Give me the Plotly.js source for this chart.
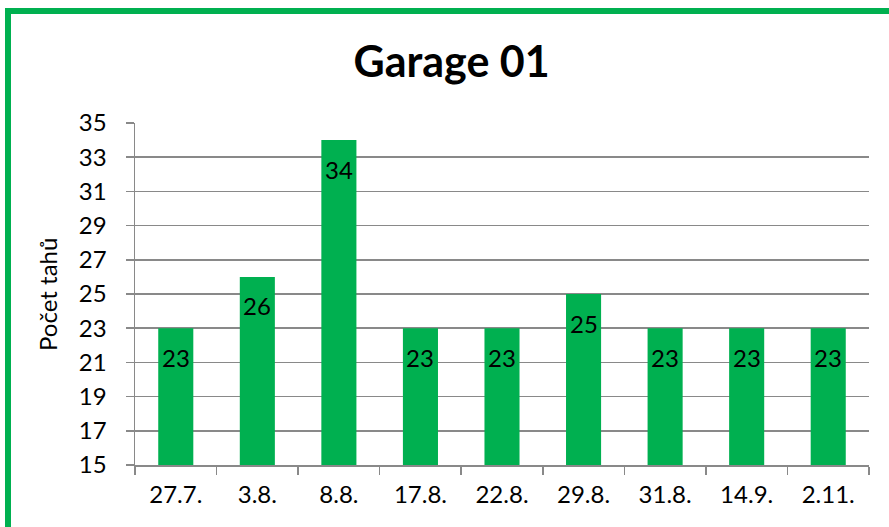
<!DOCTYPE html>
<html>
<head>
<meta charset="utf-8">
<script src="https://cdn.plot.ly/plotly-3.0.1.min.js"></script>
<style>
  html, body { margin: 0; padding: 0; background: #ffffff; overflow: hidden; }
  #frame {
    position: absolute; left: 5px; top: 8px;
    width: 900px; height: 540px;
    border: 6px solid #00B050; box-sizing: border-box;
    pointer-events: none;
  }
  #chart { position: absolute; left: 0; top: 0; width: 889px; height: 527px; }
</style>
</head>
<body>
<div id="chart"></div>
<div id="frame"></div>
<script>
// Dates of the recorded sessions and the number of moves on each
const dates = ['27.7.', '3.8.', '8.8.', '17.8.', '22.8.', '29.8.', '31.8.', '14.9.', '2.11.'];
const moves = [23, 26, 34, 23, 23, 25, 23, 23, 23];
const yTicks = [15, 17, 19, 21, 23, 25, 27, 29, 31, 33, 35];

const FONT = 'Lato, "Open Sans", sans-serif';
const GREEN = '#00B050';
const GRID = '#898989';
const SIZE = 24;

const trace = {
  type: 'bar',
  x: dates,
  y: moves,
  marker: { color: GREEN, line: { width: 0 } },
  cliponaxis: true,
  hoverinfo: 'x+y'
};

// value labels sit just inside the top of each bar
const labels = dates.map((d, i) => ({
  x: d, y: moves[i], xref: 'x', yref: 'y',
  text: String(moves[i]), showarrow: false,
  yanchor: 'middle', yshift: -29,
  font: { family: FONT, size: SIZE, color: '#000000' }
}));

labels.push({
  xref: 'paper', yref: 'paper', x: -0.12, y: 0.5,
  xanchor: 'center', yanchor: 'middle', textangle: -90,
  text: 'Počet tahů', showarrow: false,
  font: { family: FONT, size: SIZE, color: '#000000' }
});

const layout = {
  width: 889, height: 527,
  margin: { l: 135, r: 20, t: 123, b: 62 },
  paper_bgcolor: 'rgba(0,0,0,0)',
  plot_bgcolor: '#ffffff',
  showlegend: false,
  bargap: 0.57,
  title: {
    text: '<b>Garage 01</b>',
    font: { family: FONT, size: 43, color: '#000000' },
    xref: 'container', x: 0.508, xanchor: 'center',
    yref: 'container', y: 1 - 62 / 527, yanchor: 'middle'
  },
  xaxis: {
    type: 'category',
    tickson: 'boundaries',
    ticks: 'outside', ticklen: 8, tickwidth: 1.5, tickcolor: GRID,
    showline: true, linecolor: GRID, linewidth: 1.5,
    showgrid: false,
    tickfont: { family: FONT, size: SIZE, color: '#000000' },
    ticklabelstandoff: 8
  },
  yaxis: {
    range: [15, 35],
    tickmode: 'array',
    tickvals: yTicks,
    ticks: 'outside', ticklen: 8, tickwidth: 1.5, tickcolor: GRID,
    showline: true, linecolor: GRID, linewidth: 1.5,
    showgrid: true, gridcolor: GRID, gridwidth: 1.5,
    zeroline: false,
    tickfont: { family: FONT, size: SIZE, color: '#000000' },
    ticklabelstandoff: 14
  },
  annotations: labels
};

Plotly.newPlot('chart', [trace], layout, { displayModeBar: false, staticPlot: true });
</script>
</body>
</html>
